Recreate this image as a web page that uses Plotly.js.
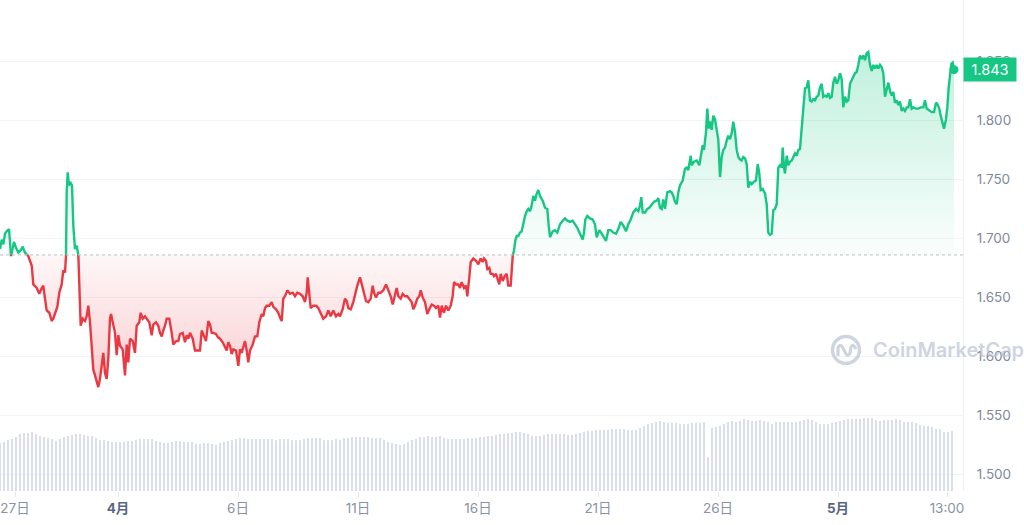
<!DOCTYPE html>
<html>
<head>
<meta charset="utf-8">
<script src="https://cdn.plot.ly/plotly-3.0.1.min.js"></script>
<style>
html,body{margin:0;padding:0;background:#fff;}
#chart{width:1024px;height:525px;}
</style>
</head>
<body>
<div id="chart"></div>
<script>
// ---- data (hours since 2024-03-27 00:00) ----
const hours = [
2.0,3.7,5.3,7.0,8.7,11.0,12.0,13.0,14.7,16.0,18.0,20.3,22.7,24.7,27.0,30.3,33.7,35.3,38.7,41.3,
43.7,45.3,47.0,48.7,51.3,53.7,55.3,57.0,59.3,61.3,63.7,65.3,67.0,68.0,68.7,69.7,71.0,72.7,74.0,75.3,
77.0,78.7,80.3,81.3,82.7,84.7,87.0,88.7,90.3,92.0,93.7,95.3,97.0,98.7,100.3,102.0,103.7,105.3,107.0,108.7,
110.3,112.0,113.0,115.3,117.0,118.7,120.3,122.0,124.7,127.0,128.7,130.3,132.0,134.7,137.0,138.7,141.3,142.7,144.7,147.0,
148.7,151.3,153.7,155.3,158.0,160.3,162.0,163.7,165.3,167.0,168.7,171.3,173.7,175.3,178.0,180.3,182.0,184.7,187.0,188.7,
190.3,192.0,194.7,197.0,199.3,202.0,203.7,206.0,208.0,210.3,212.0,213.7,215.3,218.0,220.3,222.0,224.7,227.0,228.7,230.3,
232.0,233.7,235.3,238.0,240.3,242.0,243.7,245.3,247.0,248.7,250.3,252.0,254.7,257.0,259.3,261.3,263.7,265.3,267.0,268.7,
271.3,273.7,275.3,278.0,280.3,282.0,283.7,285.3,287.0,289.3,292.0,294.7,297.0,299.3,302.0,304.7,307.0,308.7,309.7,311.3,
312.7,315.3,318.0,320.3,322.7,325.3,328.0,330.3,332.7,335.3,338.0,340.3,342.0,
344.7,347.0,348.7,350.3,352.7,355.3,357.0,359.3,362.0,363.7,365.3,368.0,370.3,372.7,374.7,376.0,378.0,380.3,382.7,385.3,
388.0,390.3,392.7,394.7,397.0,398.7,400.3,402.7,404.7,407.0,409.3,411.3,413.7,415.3,417.0,419.3,421.3,422.7,424.7,427.0,
429.3,431.3,433.7,436.0,438.0,440.3,442.0,443.7,446.0,448.0,450.3,452.7,454.7,456.0,458.0,460.3,462.0,463.7,466.0,468.0,
469.3,471.3,472.7,475.3,478.0,480.3,482.7,484.7,486.0,488.0,489.3,491.3,492.7,494.7,496.0,498.0,499.3,501.3,502.7,504.7,
506.7,508.7,510.3,512.7,514.7,516.0,517.3,518.7,520.3,522.0,523.7,525.3,527.0,528.7,530.3,532.0,533.7,535.3,537.0,538.7,
540.3,542.0,544.7,547.0,549.3,550.7,552.0,554.7,557.0,559.3,562.0,564.7,567.0,569.3,572.0,574.7,577.0,579.3,582.0,584.7,
586.0,587.3,589.3,592.0,594.7,597.0,598.7,601.3,603.7,606.0,608.0,610.3,612.7,615.3,618.0,620.3,622.7,625.3,628.0,630.3,
632.7,635.3,638.0,640.3,642.0,643.3,644.7,647.0,649.3,651.3,653.7,656.0,658.7,660.3,662.0,663.7,665.3,667.0,669.3,672.0,
673.7,675.3,677.0,678.7,680.3,682.0,684.7,687.0,688.7,690.3,692.7,693.7,696.0,698.7,701.3,702.7,704.7,706.0,708.0,709.3,
710.7,712.0,713.7,715.3,717.0,718.7,720.3,722.0,723.7,725.3,727.0,728.7,730.3,732.0,733.7,735.3,737.0,738.7,740.3,742.0,
743.7,745.3,747.0,748.7,750.3,752.0,753.7,756.0,758.0,759.7,761.3,762.7,764.7,767.0,768.7,770.3,772.0,773.7,775.3,777.0,
778.7,780.3,782.0,783.7,784.7,786.0,787.0,788.7,790.3,792.0,793.7,795.3,797.0,798.7,800.3,802.0,803.7,805.3,807.0,808.7,
810.3,812.0,813.7,815.3,817.0,818.7,820.3,822.0,823.7,825.3,827.0,828.7,830.3,832.0,833.7,835.3,837.0,838.7,840.3,842.0,
843.7,845.3,847.0,848.7,850.3,852.0,853.7,855.3,857.0,858.7,860.3,862.0,863.7,865.3,867.0,868.7,870.3,872.0,873.7,875.3,
877.0,878.7,880.3,882.0,883.7,885.3,887.0,888.7,890.3,892.0,893.7,895.3,897.0,898.7,900.3,902.0,903.7,905.3,907.0,908.7,
910.3,912.0,913.7,915.3,918.0,920.3,922.7,925.3,927.0,928.7,931.3,933.7,936.0,938.0,939.3,941.3,942.7,944.7,946.0,948.0,
949.3,950.7,952.0,953.3,954.7,956.0
];
const prices = [
1.691,1.699,1.695,1.704,1.706,1.708,1.697,1.685,1.692,1.697,1.692,1.688,1.690,1.693,1.688,1.685,1.677,1.661,1.658,1.653,
1.658,1.660,1.649,1.639,1.637,1.630,1.632,1.637,1.642,1.654,1.661,1.673,1.671,1.685,1.739,1.756,1.745,1.747,1.745,1.711,
1.691,1.694,1.687,1.654,1.626,1.632,1.630,1.634,1.643,1.629,1.609,1.589,1.584,1.579,1.574,1.581,1.592,1.603,1.586,1.581,
1.598,1.632,1.636,1.626,1.620,1.601,1.618,1.609,1.606,1.584,1.610,1.595,1.615,1.613,1.603,1.626,1.629,1.637,1.632,1.634,
1.632,1.629,1.618,1.627,1.629,1.626,1.620,1.617,1.622,1.626,1.632,1.632,1.620,1.610,1.613,1.613,1.619,1.620,1.612,1.618,
1.615,1.620,1.615,1.605,1.605,1.605,1.622,1.617,1.613,1.630,1.627,1.620,1.620,1.619,1.616,1.615,1.612,1.608,1.605,1.612,
1.609,1.602,1.606,1.605,1.592,1.606,1.603,1.608,1.613,1.605,1.595,1.605,1.610,1.617,1.617,1.629,1.636,1.634,1.641,1.643,
1.643,1.646,1.642,1.640,1.637,1.633,1.630,1.649,1.651,1.656,1.653,1.654,1.651,1.654,1.653,1.651,1.646,1.654,1.667,1.653,
1.641,1.643,1.643,1.641,1.637,1.632,1.634,1.639,1.634,1.639,1.634,1.636,1.634,
1.640,1.649,1.647,1.641,1.640,1.646,1.653,1.660,1.667,1.661,1.658,1.647,1.646,1.649,1.660,1.654,1.650,1.654,1.654,1.656,
1.661,1.656,1.651,1.644,1.651,1.658,1.651,1.649,1.653,1.651,1.651,1.649,1.646,1.640,1.643,1.649,1.651,1.656,1.650,1.646,
1.636,1.640,1.644,1.643,1.641,1.643,1.633,1.643,1.637,1.643,1.639,1.643,1.651,1.663,1.661,1.661,1.658,1.663,1.658,1.660,
1.651,1.667,1.680,1.683,1.681,1.678,1.683,1.680,1.683,1.681,1.674,1.675,1.670,1.670,1.668,1.670,1.667,1.661,1.670,1.664,
1.668,1.670,1.660,1.660,1.685,1.690,1.698,1.702,1.702,1.705,1.706,1.714,1.719,1.723,1.725,1.723,1.728,1.736,1.732,1.738,
1.741,1.736,1.732,1.726,1.725,1.711,1.701,1.706,1.707,1.705,1.712,1.715,1.717,1.715,1.714,1.715,1.712,1.709,1.704,1.699,
1.705,1.716,1.719,1.717,1.716,1.712,1.701,1.707,1.704,1.701,1.698,1.707,1.707,1.705,1.704,1.708,1.714,1.711,1.706,1.712,
1.716,1.722,1.725,1.723,1.728,1.735,1.722,1.722,1.725,1.726,1.729,1.731,1.732,1.734,1.726,1.725,1.733,1.725,1.739,1.740,
1.739,1.736,1.731,1.729,1.739,1.745,1.749,1.759,1.760,1.758,1.770,1.762,1.765,1.766,1.762,1.768,1.779,1.775,1.790,1.810,
1.793,1.799,1.792,1.804,1.801,1.792,1.784,1.752,1.769,1.775,1.777,1.783,1.787,1.784,1.789,1.799,1.790,1.775,1.769,1.767,
1.766,1.769,1.768,1.763,1.743,1.748,1.746,1.748,1.749,1.763,1.755,1.741,1.742,1.738,1.729,1.705,1.703,1.704,1.724,1.725,
1.729,1.760,1.762,1.760,1.777,1.760,1.755,1.770,1.762,1.765,1.766,1.769,1.772,1.770,1.775,1.776,1.794,1.813,1.827,1.828,
1.834,1.817,1.816,1.818,1.817,1.820,1.821,1.828,1.831,1.820,1.821,1.820,1.823,1.819,1.820,1.832,1.837,1.831,1.834,1.840,
1.835,1.811,1.820,1.816,1.817,1.831,1.835,1.837,1.840,1.841,1.847,1.855,1.852,1.855,1.851,1.857,1.858,1.847,1.842,1.847,
1.844,1.847,1.844,1.847,1.845,1.840,1.820,1.825,1.832,1.825,1.821,1.824,1.815,1.817,1.813,1.816,1.808,1.810,1.808,1.811,
1.811,1.818,1.810,1.811,1.810,1.810,1.811,1.811,1.817,1.810,1.808,1.807,1.807,1.815,1.814,1.810,1.804,1.796,1.793,1.801,
1.811,1.828,1.840,1.848,1.849,1.843
];
const volHours = [
2,6,10,14,18,22,26,30,34,38,42,46,50,54,58,62,66,70,74,78,82,86,90,94,98,102,106,110,114,118,
122,126,130,134,138,142,146,150,154,158,162,166,170,174,178,182,186,190,194,198,202,206,210,214,218,222,226,230,234,238,
242,246,250,254,258,262,266,270,274,278,282,286,290,294,298,302,306,310,314,318,322,326,330,334,338,342,346,350,354,358,
362,366,370,374,378,382,386,390,394,398,402,406,410,414,418,422,426,430,434,438,442,446,450,454,458,462,466,470,474,478,
482,486,490,494,498,502,506,510,514,518,522,526,530,534,538,542,546,550,554,558,562,566,570,574,578,582,586,590,594,598,
602,606,610,614,618,622,626,630,634,638,642,646,650,654,658,662,666,670,674,678,682,686,690,694,698,702,706,710,714,718,
722,726,730,734,738,742,746,750,754,758,762,766,770,774,778,782,786,790,794,798,802,806,810,814,818,822,826,830,834,838,
842,846,850,854,858,862,866,870,874,878,882,886,890,894,898,902,906,910,914,918,922,926,930,934,938,942,946,950,954
];
const volumes = [
48,49,51,52,54,57,58,58.5,58.7,57.5,
55,54,53,52,50,52,54.5,55.5,56,57.5,
57.5,56,55.5,55,53.5,51,50.7,50.5,49.3,49,
49,49.5,49.8,50,51,52.4,52.2,52,51.7,50.5,
49,48,47.6,49,49.6,49.7,49.5,49.2,48.6,47.5,
46.8,47.8,47.8,47,46,48,48.8,50,51,52.3,
53.4,52.8,52.2,51.8,51.7,51.7,52.1,52.2,51.6,51.5,
51.7,51.7,51.6,51.4,51.4,51.4,52,52.6,53.2,53.3,
53,51.5,51,51.5,51.6,51.4,52.6,53.5,53.9,54,
54,54,53.8,53.2,53.1,53.4,51,49,47.8,47,
46.4,47.4,48.8,50.8,52.4,54,54.4,54.6,54.1,54.3,
54.7,53.2,52.4,52.4,52.4,52.4,52.4,52.6,52.9,53.5,
54,54.4,54.9,55.5,56,56.7,57.4,58.1,58.4,58.7,
59,58.2,56.7,55.5,54.8,55.2,56,57.2,57.4,57.4,
57.4,57.4,56.5,55.9,56.6,58.2,59.3,59.9,60.5,61.1,
61.4,61.4,61.4,61.7,62,62,61.8,61.5,61,60.9,
63,65,67,67.7,68.7,70,69,68,68,67.9,
67.1,66.9,67.3,67.7,68.1,68.5,69,34,63,64,
65.5,67.5,69,69.8,69.2,70.5,71.6,70.9,70.2,69.9,
71.5,70,68.8,67.4,69.2,69.4,69,68.6,68.8,69.3,
70.4,71.4,71.6,71.2,69.4,67.5,67.4,67.5,67.9,68.6,
69.6,70.6,71.6,72.2,72.4,72.4,73,73.3,73,71,
70.2,70.6,70.7,70.7,72.5,71,68.8,69.5,69,67.7,
66,65,65,63.6,62.4,62.4,59,58.6,60.4
];
const openPrice = 1.686;          // reference (dotted) level
const lastPrice = 1.843;
const tickHours = [17,120,240,360,480,600,720,840,949];
const tickLabels = ['27日','4月','6日','11日','16日','21日','26日','5月','13:00'];
const boldTicks = ['4月','5月'];
const priceTicks = [1.50,1.55,1.60,1.65,1.70,1.75,1.80,1.85];

// ---- colours ----
const GREEN = '#16c784', RED = '#ea3943';

// insert the points where the line crosses the reference level so the colour switches cleanly
function withCrossings(xs, ys, lvl){
  const ox=[], oy=[];
  for(let i=0;i<xs.length;i++){
    ox.push(xs[i]); oy.push(ys[i]);
    if(i<xs.length-1){
      const a=ys[i]-lvl, b=ys[i+1]-lvl;
      if(a*b<0){
        const t=a/(a-b);
        ox.push(xs[i]+t*(xs[i+1]-xs[i])); oy.push(lvl);
      }
    }
  }
  return {x:ox,y:oy};
}
const seg = withCrossings(hours, prices, openPrice);
const x0 = hours[0], x1 = hours[hours.length-1];

const traces = [
  {type:'bar', x:volHours, y:volumes, yaxis:'y2', width:2.6,
   marker:{color:'#d9dfec', line:{width:0}}, hoverinfo:'skip'},
  {type:'scatter', mode:'lines', x:[x0,x1], y:[openPrice,openPrice], line:{width:0}, hoverinfo:'skip'},
  {type:'scatter', mode:'lines', x:seg.x, y:seg.y.map(v=>Math.max(v,openPrice)),
   fill:'tonexty', line:{width:0}, hoverinfo:'skip',
   fillgradient:{type:'vertical', start:openPrice, stop:1.86,
     colorscale:[[0,'rgba(22,199,132,0.02)'],[1,'rgba(22,199,132,0.27)']]}},
  {type:'scatter', mode:'lines', x:[x0,x1], y:[openPrice,openPrice], line:{width:0}, hoverinfo:'skip'},
  {type:'scatter', mode:'lines', x:seg.x, y:seg.y.map(v=>Math.min(v,openPrice)),
   fill:'tonexty', line:{width:0}, hoverinfo:'skip',
   fillgradient:{type:'vertical', start:1.57, stop:openPrice,
     colorscale:[[0,'rgba(234,57,67,0.26)'],[1,'rgba(234,57,67,0.04)']]}},
  {type:'scatter', mode:'lines', x:seg.x, y:seg.y.map(v=>v>=openPrice?v:null),
   line:{color:GREEN,width:2.4}, connectgaps:false, hoverinfo:'skip'},
  {type:'scatter', mode:'lines', x:seg.x, y:seg.y.map(v=>v<=openPrice?v:null),
   line:{color:RED,width:2.4}, connectgaps:false, hoverinfo:'skip'},
  {type:'scatter', mode:'markers', x:[x1], y:[lastPrice],
   marker:{color:GREEN,size:9}, hoverinfo:'skip'}
];

const FONT = 'Inter, "Noto Sans CJK JP", sans-serif';
const ticktext = tickLabels.map(t => boldTicks.includes(t)
  ? '<span style="color:#58667e"><b>'+t+'</b></span>' : t);

const layout = {
  width:1024, height:525,
  margin:{l:0, r:61, t:0, b:34},
  paper_bgcolor:'#ffffff', plot_bgcolor:'#ffffff',
  showlegend:false,
  font:{family:FONT, color:'#808a9d', size:13},
  xaxis:{range:[2,965], tickmode:'array', tickvals:tickHours, ticktext:ticktext,
    showgrid:false, zeroline:false, showline:false,
    ticks:'outside', ticklen:5, tickcolor:'#e3e7ee', tickwidth:1,
    tickfont:{size:13.5, color:'#8a92a5', family:FONT}, fixedrange:true},
  yaxis:{side:'right', range:[1.486,1.902], tickmode:'array', tickvals:priceTicks,
    tickformat:'.3f', showgrid:true, gridcolor:'#f1f3f6', gridwidth:1,
    zeroline:false, showline:true, linecolor:'#eef0f4', linewidth:1,
    ticks:'outside', ticklen:10, tickcolor:'rgba(0,0,0,0)',
    tickfont:{size:13.5, color:'#808a9d', family:FONT}},
  yaxis2:{overlaying:'y', range:[0,491], showgrid:false, zeroline:false,
    showticklabels:false, showline:false, side:'left'},
  bargap:0,
  shapes:[
    {type:'line', xref:'paper', x0:0, x1:1, yref:'y', y0:openPrice, y1:openPrice,
     line:{color:'#b8bec9', width:1, dash:'dot'}},
    {type:'circle', xref:'paper', xsizemode:'pixel', xanchor:846/963, x0:-13.5, x1:13.5,
     yref:'y', ysizemode:'pixel', yanchor:1.6055, y0:-13.5, y1:13.5,
     line:{color:'rgba(190,198,214,0.75)', width:3.5}},
    {type:'path', xref:'paper', xsizemode:'pixel', xanchor:846/963,
     yref:'y', ysizemode:'pixel', yanchor:1.6055,
     path:'M -8 -6 L -8 2 Q -6 7 -3 2 L 0 -4 Q 2 -7 4 -3 L 5 3 Q 7 7 10 1',
     line:{color:'rgba(190,198,214,0.75)', width:3.2}}
  ],
  annotations:[
    {xref:'paper', x:1, xanchor:'left', yref:'y', y:lastPrice, yanchor:'middle',
     text:lastPrice.toFixed(3), showarrow:false, bgcolor:GREEN, borderpad:3,
     width:46, height:17, font:{color:'#ffffff', size:14.5, family:FONT}},
    {xref:'paper', x:871/963, xanchor:'left', yref:'y', y:1.6055, yanchor:'middle',
     text:'CoinMarketCap', showarrow:false,
     font:{color:'rgba(185,193,210,0.7)', size:20, family:FONT, weight:600}}
  ]
};

Plotly.newPlot('chart', traces, layout, {staticPlot:true, displayModeBar:false});
</script>
</body>
</html>
